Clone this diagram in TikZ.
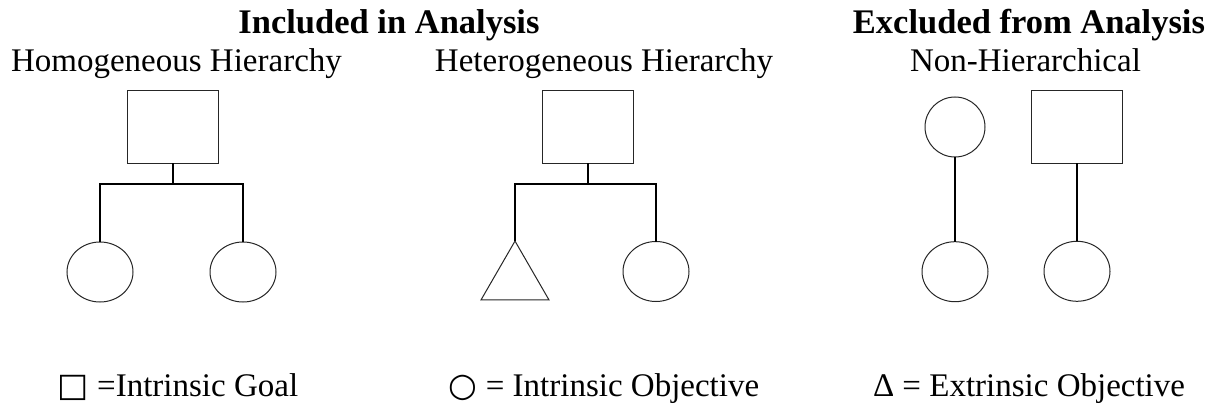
\documentclass[tikz,border=0pt]{standalone}
\usepackage{fontspec}
\setmainfont{Liberation Serif}
\newfontfamily\symfont{DejaVu Sans}
\usetikzlibrary{shapes.geometric}
\tikzset{
  shp/.style={draw=black!85, line width=1pt, inner sep=0pt, outer sep=0pt},
  goal/.style={shp, rectangle, minimum width=91pt, minimum height=72pt},
  obj/.style={shp, ellipse, minimum width=66pt, minimum height=60pt},
  ext/.style={shp, regular polygon, regular polygon sides=3, minimum size=78.5pt},
  link/.style={line width=1.8pt, black},
  head/.style={anchor=base, inner sep=0pt, font=\fontsize{34.5}{40}\selectfont\bfseries},
  sub/.style={anchor=base, inner sep=0pt, font=\fontsize{33}{40}\selectfont},
  leg/.style={anchor=base, inner sep=0pt, font=\fontsize{33}{40}\selectfont},
}
\begin{document}
\begin{tikzpicture}[x=1pt, y=-1pt]
\useasboundingbox (0,0) rectangle (1211,404);
% headings
\node[head] (hin) at (389,34) {Included in Analysis};
\node[head] (hex) at (1029,34) {Excluded from Analysis};
\node[sub] (s1) at (176.5,72) {Homogeneous Hierarchy};
\node[sub] (s2) at (604,72) {Heterogeneous Hierarchy};
\node[sub] (s3) at (1025.5,72) {Non-Hierarchical};
% homogeneous
\node[goal] (g1) at (173,127) {};
\node[obj] (o1) at (100,272) {};
\node[obj] (o2) at (243,272) {};
\coordinate (j1) at (173,184);
\draw[link] (g1.south) -- (j1);
\draw[link] (o1.north) |- (j1) -| (o2.north);
% heterogeneous
\node[goal] (g2) at (588,127) {};
\node[ext] (t2) at (515,280.3) {};
\node[obj] (o3) at (656,271.5) {};
\coordinate (j2) at (588,184);
\draw[link] (g2.south) -- (j2);
\draw[link] (t2.north) |- (j2) -| (o3.north);
% non-hierarchical
\node[shp, circle, minimum size=60pt] (c4) at (955,127) {};
\node[obj] (o4) at (955,271.7) {};
\draw[link] (c4.south) -- (o4.north);
\node[goal] (g5) at (1077,127) {};
\node[obj] (o5) at (1077,271.3) {};
\draw[link] (g5.south) -- (o5.north);
% legend
\node[leg] (l1) at (178,396) {{\symfont □} =Intrinsic Goal};
\node[leg] (l2) at (604,396) {{\symfont\bfseries ○} = Intrinsic Objective};
\node[leg] (l3) at (1029,396) {Δ = Extrinsic Objective};
\end{tikzpicture}
\end{document}
